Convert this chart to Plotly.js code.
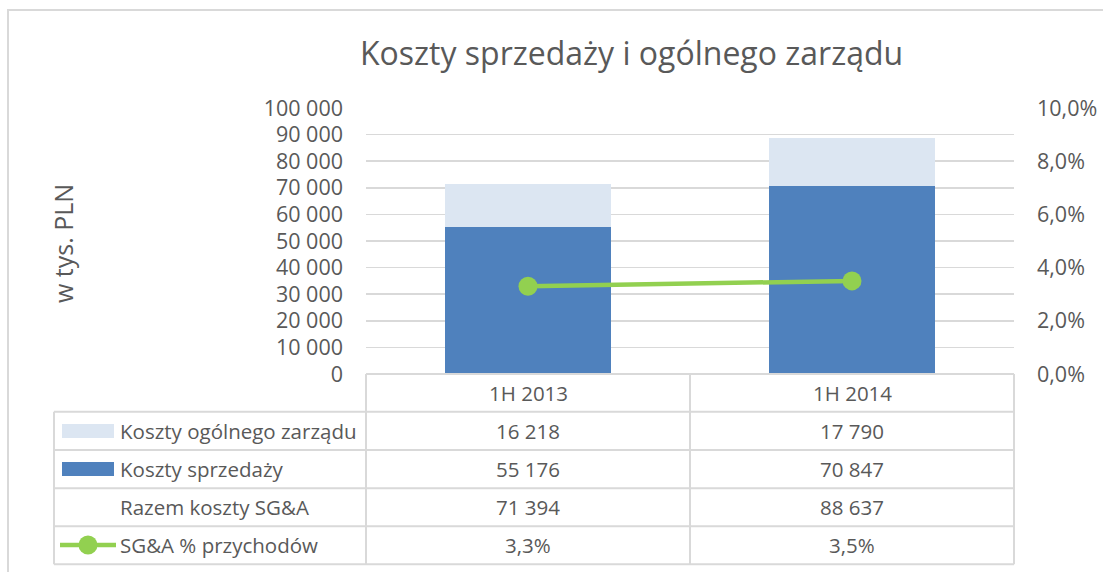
<!DOCTYPE html>
<html>
<head>
<meta charset="utf-8">
<script src="https://cdn.plot.ly/plotly-3.0.1.min.js"></script>
<style>html,body{margin:0;padding:0;background:#fff;}#chart{width:1103px;height:572px;}</style>
</head>
<body>
<div id="chart"></div>
<script>
const categories = ['1H 2013', '1H 2014'];
const kosztyOgolnegoZarzadu = [16218, 17790];
const kosztySprzedazy = [55176, 70847];
const sgaProcentPrzychodow = [0.033, 0.035];
const rowLabels = ['Koszty ogólnego zarządu', 'Koszty sprzedaży', 'Razem koszty SG&A', 'SG&A % przychodów'];
const chartTitle = 'Koszty sprzedaży i ogólnego zarządu';
const yAxisTitle = 'w tys. PLN';

const W = 1103, H = 572;
const px = x => x / W;
const py = y => 1 - y / H;
const FONT = 'Open Sans';
const GREY = '#595959';
const LINE = '#D9D9D9';
const C_LIGHT = '#DCE6F2', C_DARK = '#4F81BD', C_GREEN = '#92D050';
const TS = 20.5;

const razem = kosztySprzedazy.map((v, i) => v + kosztyOgolnegoZarzadu[i]);
const fmtNum = n => String(Math.round(n)).replace(/\B(?=(\d{3})+(?!\d))/g, ' ');
const fmtPct = v => (v * 100).toFixed(1).replace('.', ',') + '%';

const traces = [
  {type: 'bar', name: rowLabels[1], x: categories, y: kosztySprzedazy, marker: {color: C_DARK}, hoverinfo: 'skip'},
  {type: 'bar', name: rowLabels[0], x: categories, y: kosztyOgolnegoZarzadu, marker: {color: C_LIGHT}, hoverinfo: 'skip'},
  {type: 'scatter', mode: 'lines+markers', name: rowLabels[3], x: categories, y: sgaProcentPrzychodow, yaxis: 'y2',
   line: {color: C_GREEN, width: 4.5}, marker: {color: C_GREEN, size: 19}, hoverinfo: 'skip'}
];

// table geometry (pixels)
const tL = 54, pL = 366, pR = 1014, pMid = (pL + pR) / 2;
const axisY = 374;
const rowY = [411.7, 450, 488.3, 526.3, 564.3];
const colC = [(pL + pMid) / 2, (pMid + pR) / 2];

const shapes = [];
const ln = (x0, y0, x1, y1, c, w) => shapes.push({type: 'line', xref: 'paper', yref: 'paper',
  x0: px(x0), y0: py(y0), x1: px(x1), y1: py(y1), line: {color: c || LINE, width: w || 2}});
// chart border
shapes.push({type: 'rect', xref: 'paper', yref: 'paper', x0: px(8), y0: py(10), x1: px(W + 20), y1: py(H + 20),
  line: {color: LINE, width: 2}, fillcolor: 'rgba(0,0,0,0)'});
ln(pL, axisY, pR, axisY);
rowY.forEach(y => ln(tL, y, pR, y));
ln(tL, rowY[0], tL, rowY[4]);
[pL, pMid, pR].forEach(x => ln(x, axisY, x, rowY[4]));
// legend keys
shapes.push({type: 'rect', xref: 'paper', yref: 'paper', x0: px(62), x1: px(114), y0: py(424), y1: py(438), fillcolor: C_LIGHT, line: {width: 0}});
shapes.push({type: 'rect', xref: 'paper', yref: 'paper', x0: px(62), x1: px(114), y0: py(462), y1: py(476), fillcolor: C_DARK, line: {width: 0}});
ln(60, 545, 116, 545, C_GREEN, 4.5);
const r = 9.5, cx = 88, cy = 545;
shapes.push({type: 'circle', xref: 'paper', yref: 'paper', x0: px(cx - r), x1: px(cx + r), y0: py(cy - r), y1: py(cy + r), fillcolor: C_GREEN, line: {width: 0}});

const annotations = [];
const ann = (x, y, text, opts) => annotations.push(Object.assign({xref: 'paper', yref: 'paper', x: px(x), y: py(y), text: text,
  showarrow: false, xanchor: 'center', yanchor: 'middle', font: {family: FONT, size: TS, color: GREY}}, opts || {}));

ann(631, 52, chartTitle, {font: {family: FONT, size: 32, color: GREY}});
ann(63, 244, yAxisTitle, {textangle: -90, font: {family: FONT, size: 25, color: GREY}});
categories.forEach((c, i) => ann(colC[i], (axisY + rowY[0]) / 2, c));
const rowVals = [kosztyOgolnegoZarzadu.map(fmtNum), kosztySprzedazy.map(fmtNum), razem.map(fmtNum), sgaProcentPrzychodow.map(fmtPct)];
rowLabels.forEach((lab, k) => {
  const yc = (rowY[k] + rowY[k + 1]) / 2;
  ann(118, yc, lab, {xanchor: 'left'});
  rowVals[k].forEach((v, i) => ann(colC[i], yc, v));
});

const layout = {
  width: W, height: H,
  margin: {l: 0, r: 0, t: 0, b: 0},
  paper_bgcolor: '#fff', plot_bgcolor: '#fff',
  separators: ', ',
  showlegend: false,
  barmode: 'stack',
  bargap: 0.488,
  font: {family: FONT, color: GREY},
  xaxis: {domain: [px(pL), px(pR)], type: 'category', range: [-0.5, 1.5], showticklabels: false,
          showgrid: false, zeroline: false, showline: false, ticks: ''},
  yaxis: {domain: [py(axisY), py(108)], range: [0, 100000], dtick: 10000, tickformat: ',d',
          showgrid: true, gridcolor: LINE, gridwidth: 1.5, zeroline: false, showline: false, ticks: '',
          ticklabelstandoff: 22, tickfont: {family: FONT, size: 21.5, color: GREY}},
  yaxis2: {overlaying: 'y', side: 'right', range: [0, 0.1], dtick: 0.02, tickformat: '.1%',
           showgrid: false, zeroline: false, showline: false, ticks: '',
           ticklabelstandoff: 22, tickfont: {family: FONT, size: 21.5, color: GREY}},
  shapes: shapes,
  annotations: annotations
};

Plotly.newPlot('chart', traces, layout, {staticPlot: true, displayModeBar: false});
</script>
</body>
</html>
